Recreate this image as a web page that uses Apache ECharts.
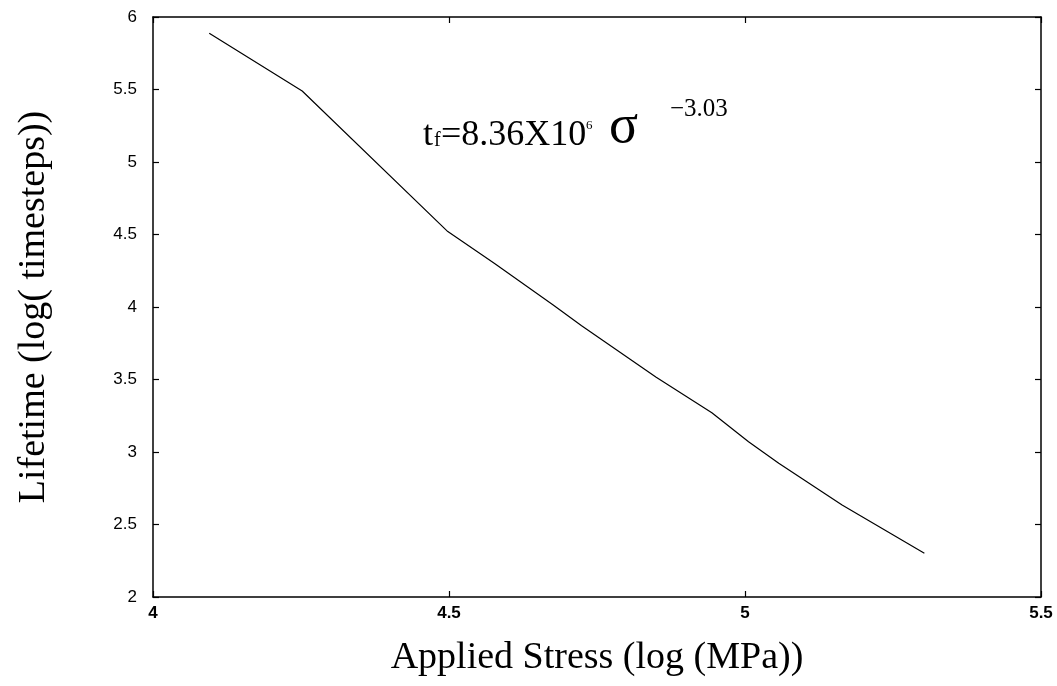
<!DOCTYPE html>
<html>
<head>
<meta charset="utf-8">
<script src="https://cdn.jsdelivr.net/npm/echarts@6/dist/echarts.min.js"></script>
<style>
  html, body { margin: 0; padding: 0; background: #fff; }
  #main { width: 1057px; height: 686px; }
</style>
</head>
<body>
<div id="main"></div>
<script>
var chart = echarts.init(document.getElementById('main'));

// 读图得到的数据 (log stress, log lifetime)
var stressLog = [4.095, 4.252, 4.498, 4.577, 4.676, 4.724, 4.85, 4.944, 5.006, 5.057, 5.164, 5.303];
var lifeLog = [5.888, 5.49, 4.52, 4.30, 4.014, 3.871, 3.515, 3.271, 3.071, 2.922, 2.634, 2.301];
var xTicks = [4, 4.5, 5, 5.5];
var yTicks = [2, 2.5, 3, 3.5, 4, 4.5, 5, 5.5, 6];

var points = stressLog.map(function (x, i) { return [x, lifeLog[i]]; });

var tickStyle = {
    show: true,
    inside: true,
    length: 6,
    lineStyle: { color: '#000', width: 1.2 }
};
var lineStyle = { show: true, lineStyle: { color: '#000', width: 1.5 } };

var option = {
    backgroundColor: '#fff',
    animation: false,
    grid: {
        left: 153,
        top: 17,
        right: 16,
        bottom: 89
    },
    xAxis: [{
        type: 'value',
        min: xTicks[0],
        max: xTicks[xTicks.length - 1],
        interval: 0.5,
        position: 'bottom',
        axisLine: lineStyle,
        axisTick: tickStyle,
        splitLine: { show: false },
        axisLabel: {
            color: '#000',
            fontFamily: 'Liberation Sans',
            fontSize: 17,
            fontWeight: 'bold',
            margin: 8
        },
        name: 'Applied Stress (log (MPa))',
        nameLocation: 'middle',
        nameGap: 42,
        nameTextStyle: {
            color: '#000',
            fontFamily: 'Liberation Serif',
            fontSize: 38
        }
    }, {
        type: 'value',
        min: xTicks[0],
        max: xTicks[xTicks.length - 1],
        interval: 0.5,
        position: 'top',
        axisLine: lineStyle,
        axisTick: tickStyle,
        axisLabel: { show: false },
        splitLine: { show: false }
    }],
    yAxis: [{
        type: 'value',
        min: yTicks[0],
        max: yTicks[yTicks.length - 1],
        interval: 0.5,
        position: 'left',
        axisLine: lineStyle,
        axisTick: tickStyle,
        splitLine: { show: false },
        axisLabel: {
            color: '#000',
            fontFamily: 'Liberation Sans',
            fontSize: 17,
            margin: 16
        },
        name: 'Lifetime (log( timesteps))',
        nameLocation: 'middle',
        nameGap: 100,
        nameTextStyle: {
            color: '#000',
            fontFamily: 'Liberation Serif',
            fontSize: 38
        }
    }, {
        type: 'value',
        min: yTicks[0],
        max: yTicks[yTicks.length - 1],
        interval: 0.5,
        position: 'right',
        axisLine: lineStyle,
        axisTick: tickStyle,
        axisLabel: { show: false },
        splitLine: { show: false }
    }],
    graphic: [
        { type: 'text', left: 423, top: 118, style: { text: 't', font: '36px "Liberation Serif"', fill: '#000' } },
        { type: 'text', left: 434, top: 131, style: { text: 'f', font: '20px "Liberation Serif"', fill: '#000' } },
        { type: 'text', left: 441, top: 118, style: { text: '=8.36X10', font: '36px "Liberation Serif"', fill: '#000' } },
        { type: 'text', left: 586, top: 119, style: { text: '6', font: '13px "Liberation Serif"', fill: '#000' } },
        { type: 'text', left: 609, top: 101, style: { text: 'σ', font: '54px "Liberation Serif"', fill: '#000' } },
        { type: 'text', left: 670, top: 97, style: { text: '\u22123.03', font: '25px "Liberation Serif"', fill: '#000' } }
    ],
    series: [{
        name: 'lifetime',
        type: 'line',
        data: points,
        symbol: 'none',
        smooth: false,
        lineStyle: { color: '#000', width: 1.2 }
    }]
};
chart.setOption(option);
</script>
</body>
</html>
